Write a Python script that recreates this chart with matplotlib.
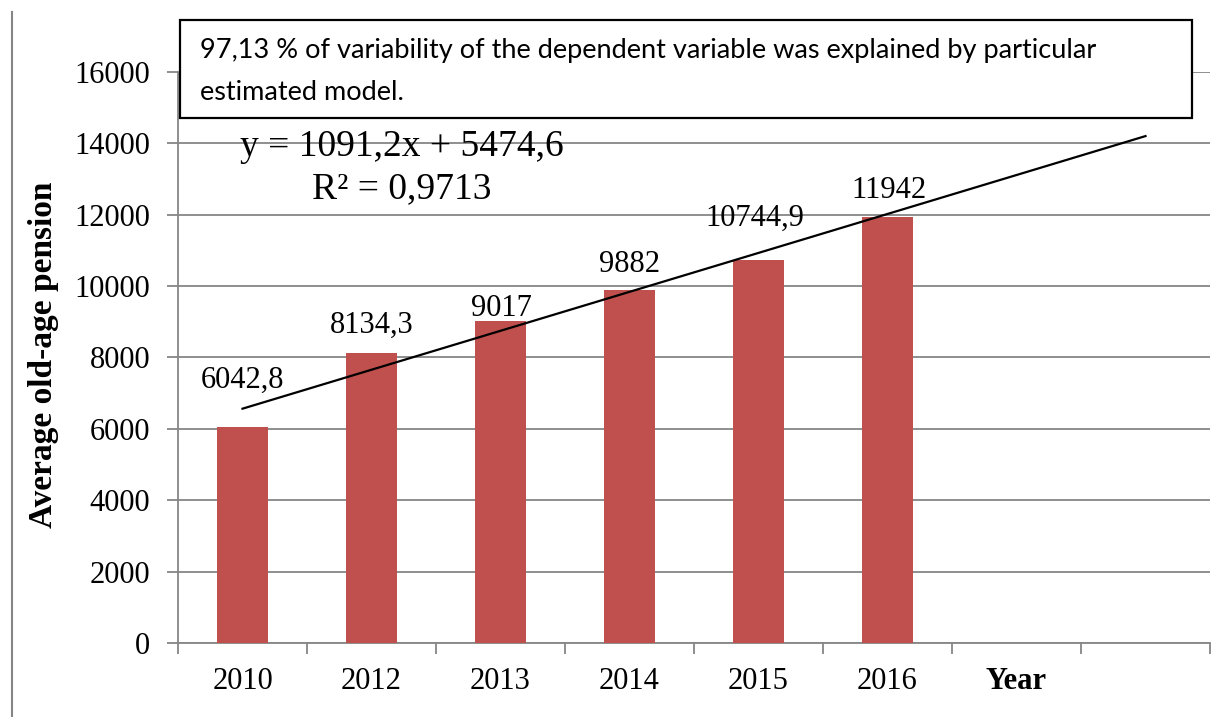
import numpy as np
import matplotlib
matplotlib.use("Agg")
import matplotlib.pyplot as plt
from matplotlib.patches import Rectangle
from matplotlib.lines import Line2D

years = ["2010", "2012", "2013", "2014", "2015", "2016"]
pension = [6042.8, 8134.3, 9017, 9882, 10744.9, 11942]
value_labels = ["6042,8", "8134,3", "9017", "9882", "10744,9", "11942"]
extra_slots = ["Year", ""]
yticks = [0, 2000, 4000, 6000, 8000, 10000, 12000, 14000, 16000]
eq_text = "y = 1091,2x + 5474,6"
r2_text = "R² = 0,9713"
box_line1 = "97,13 % of variability of the dependent variable was explained by particular"
box_line2 = "estimated model."
ylabel = "Average old-age pension"

W, H = 1211, 717
fig = plt.figure(figsize=(W / 100, H / 100), dpi=100)
serif = "Liberation Serif"
gray = "#868686"

def fx(px):
    return px / W

def fy(py):
    return 1 - py / H

ax = fig.add_axes([fx(178), fy(643), fx(1210) - fx(178), fy(72) - fy(643)])
n_slots = len(years) + len(extra_slots)
x = np.arange(len(years))
ax.bar(x, pension, width=0.4, color="#C0504D", zorder=3)
ax.set_xlim(-0.5, n_slots - 0.5)
ax.set_ylim(0, 16000)
ax.set_yticks(yticks)
ax.set_yticklabels([str(v) for v in yticks], fontfamily=serif, fontsize=22)
ax.yaxis.grid(True, color=gray, linewidth=1.3, zorder=0)
ax.set_axisbelow(True)

ax.set_xticks(np.arange(n_slots))
labels = years + extra_slots
ax.set_xticklabels(labels, fontfamily=serif, fontsize=22)
for t in ax.get_xticklabels():
    if t.get_text() == "Year":
        t.set_fontweight("bold")
ax.tick_params(axis="x", which="major", length=0, pad=17)
ax.set_xticks(np.arange(n_slots + 1) - 0.5, minor=True)
ax.tick_params(axis="x", which="minor", length=8, width=1.3, color=gray)
ax.tick_params(axis="y", length=8, width=1.3, color=gray, pad=12)

for s in ["top", "right"]:
    ax.spines[s].set_visible(False)
for s in ["left", "bottom"]:
    ax.spines[s].set_color(gray)
    ax.spines[s].set_linewidth(1.3)

# trend line (linear fit, forecast forward 2 periods)
xs = np.arange(1, len(years) + 1)
slope, intercept = np.polyfit(xs, pension, 1)
xt = np.array([1, n_slots])
ax.plot(xt - 1, slope * xt + intercept, color="black", linewidth=1.6, zorder=4)

# data labels (pixel offsets of the label baseline from the bar top)
offsets = [(0, 40), (0, 20), (1, 5), (0, 18), (-4, 34), (1, 19)]
for xi, v, lab, (dx, dy) in zip(x, pension, value_labels, offsets):
    ax.annotate(lab, (xi, v), xytext=(dx, dy), textcoords="offset pixels",
                ha="center", va="baseline", fontfamily=serif, fontsize=22, zorder=5)

# equation
fig.text(fx(402), fy(156), eq_text, ha="center", va="baseline", fontfamily=serif, fontsize=27)
fig.text(fx(402), fy(198), r2_text, ha="center", va="baseline", fontfamily=serif, fontsize=27)

# y label
fig.text(fx(44), fy(355), ylabel, rotation=90, ha="center", va="center",
         fontfamily=serif, fontsize=24, fontweight="bold")

# text box
fig.patches.append(Rectangle((fx(180), fy(118)), fx(1192) - fx(180), fy(20) - fy(118),
                             transform=fig.transFigure, facecolor="white",
                             edgecolor="black", linewidth=1.6, zorder=10))
fig.text(fx(200), fy(58), box_line1, ha="left", va="baseline", fontfamily="Lato",
         fontsize=19.5, zorder=11)
fig.text(fx(200), fy(100), box_line2, ha="left", va="baseline", fontfamily="Lato",
         fontsize=19.5, zorder=11)

# outer left border
fig.add_artist(Line2D([fx(12), fx(12)], [fy(12), 0], transform=fig.transFigure,
                      color=gray, linewidth=1.5))

fig.savefig("out.png", dpi=100)
